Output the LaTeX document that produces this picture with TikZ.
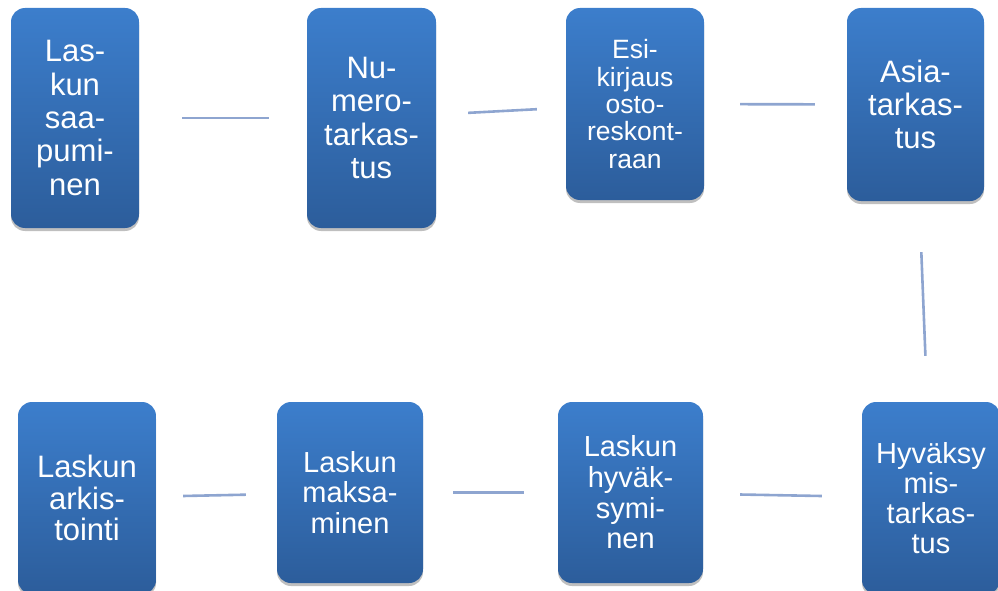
\documentclass[tikz,border=0pt]{standalone}
\usepackage{fontspec}
\setmainfont{Liberation Sans}
\usepackage{tikz}
\usetikzlibrary{shadows}
\definecolor{boxtop}{RGB}{60,126,204}
\definecolor{boxbottom}{RGB}{44,93,155}
\definecolor{connblue}{RGB}{142,165,208}

\begin{document}
\begin{tikzpicture}[x=1pt, y=-1pt,
    box/.style={rectangle, rounded corners=14pt, top color=boxtop, bottom color=boxbottom,
        text=white, align=center, inner sep=2pt,
        drop shadow={shadow xshift=0pt, shadow yshift=-3pt, opacity=0.25, fill=black}},
    conn/.style={connblue, line width=2.6pt}
]
    \clip (0,0) rectangle (998,591);

    \node[box, minimum width=128pt, minimum height=220pt, font=\fontsize{31}{33.3}\selectfont] (saapu) at (75,118) {Las-\\kun\\saa-\\pumi-\\nen};
    \node[box, minimum width=129pt, minimum height=220pt, font=\fontsize{31}{33.3}\selectfont] (numero) at (371.5,118) {Nu-\\mero-\\tarkas-\\tus};
    \node[box, minimum width=138pt, minimum height=192pt, font=\fontsize{26.5}{27.4}\selectfont] (esikirj) at (635,104) {Esi-\\kirjaus\\osto-\\reskont-\\raan};
    \node[box, minimum width=137pt, minimum height=193pt, font=\fontsize{31}{33.3}\selectfont] (asia) at (915.5,104.5) {Asia-\\tarkas-\\tus};
    \node[box, minimum width=138pt, minimum height=192pt, font=\fontsize{29}{29.8}\selectfont] (hyvtark) at (931,498) {Hyväksy\\mis-\\tarkas-\\tus};
    \node[box, minimum width=145pt, minimum height=181pt, font=\fontsize{29}{30.6}\selectfont] (hyvaks) at (630.5,492.5) {Laskun\\hyväk-\\symi-\\nen};
    \node[box, minimum width=146pt, minimum height=181pt, font=\fontsize{29}{30.2}\selectfont] (maksu) at (350,492.5) {Laskun\\maksa-\\minen};
    \node[box, minimum width=138pt, minimum height=192pt, font=\fontsize{31}{31.7}\selectfont] (arkisto) at (87,498) {Laskun\\arkis-\\tointi};

    % Connectors
    \draw[conn, shorten <=43pt, shorten >=38pt] (saapu) -- (numero);
    \draw[conn, shorten <=32pt, shorten >=29pt] (numero) -- (esikirj);
    \draw[conn, shorten <=36pt, shorten >=32pt] (esikirj) -- (asia);
    \draw[conn, shorten <=51pt, shorten >=46pt] (asia) -- (hyvtark);
    \draw[conn, shorten <=40pt, shorten >=37pt] (hyvtark) -- (hyvaks);
    \draw[conn, shorten <=34pt, shorten >=30pt] (hyvaks) -- (maksu);
    \draw[conn, shorten <=31pt, shorten >=27pt] (maksu) -- (arkisto);
\end{tikzpicture}
\end{document}
